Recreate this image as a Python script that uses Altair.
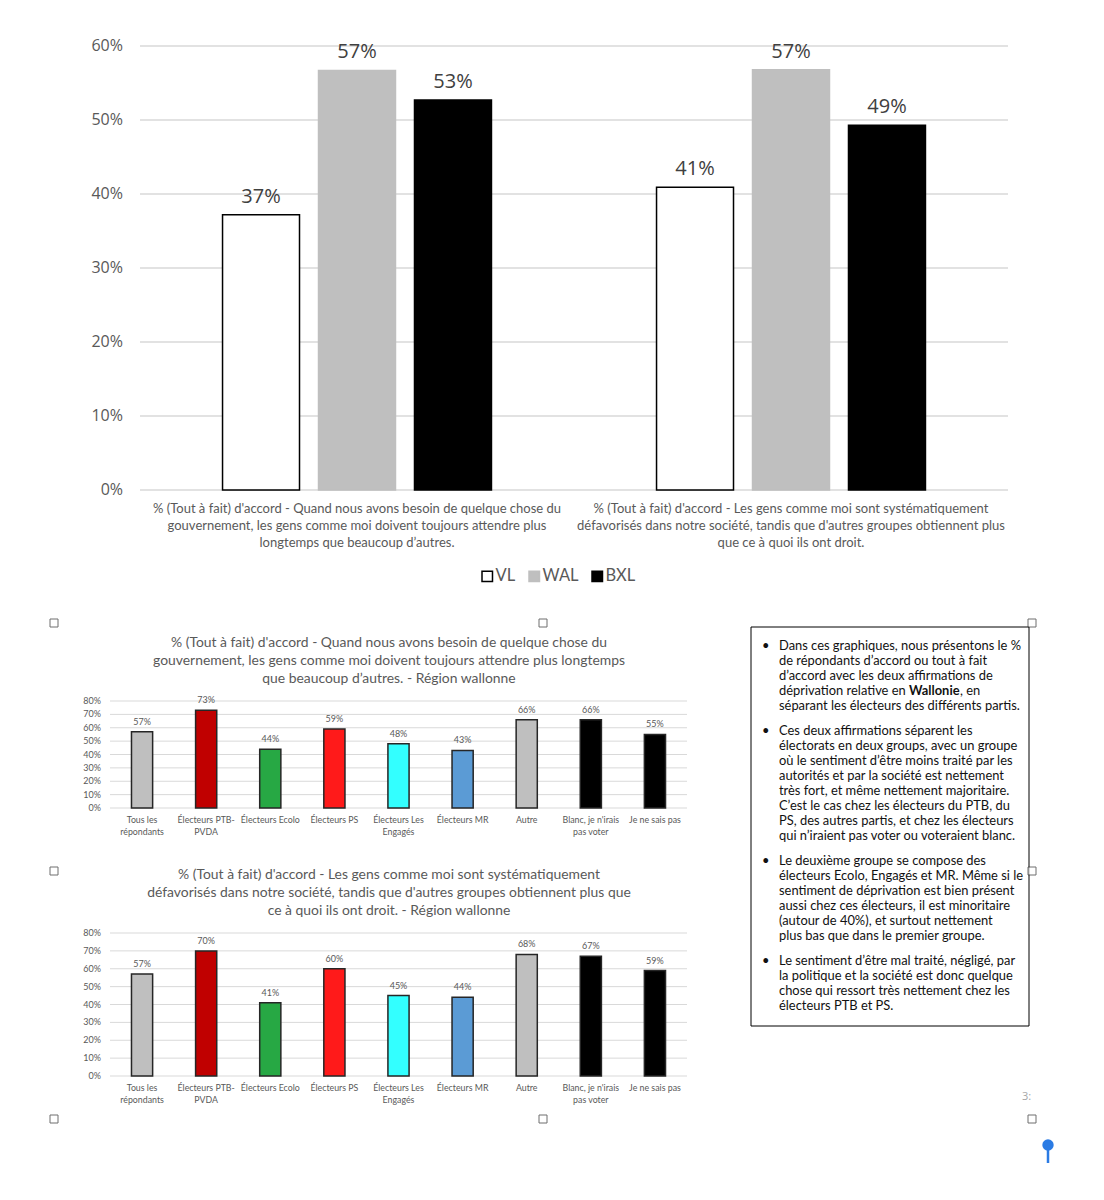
import altair as alt
import pandas as pd

# ---------------- data ----------------
stmt_keys = ["S1", "S2"]
stmt_lines = [
    ["% (Tout à fait) d'accord - Quand nous avons besoin de quelque chose du",
     "gouvernement, les gens comme moi doivent toujours attendre plus",
     "longtemps que beaucoup d’autres."],
    ["% (Tout à fait) d'accord - Les gens comme moi sont systématiquement",
     "défavorisés dans notre société, tandis que d'autres groupes obtiennent plus",
     "que ce à quoi ils ont droit."],
]
regions = ["VL", "WAL", "BXL"]
vals_vl = [0.372, 0.409]
vals_wal = [0.567, 0.568]
vals_bxl = [0.527, 0.493]
region_fill = ["#FFFFFF", "#BFBFBF", "#000000"]
region_stroke = ["#000000", "#BFBFBF", "#000000"]
top_ticks = [0.0, 0.1, 0.2, 0.3, 0.4, 0.5, 0.6]

parties = ["Tous les répondants", "Électeurs PTB-PVDA", "Électeurs Ecolo", "Électeurs PS",
           "Électeurs Les Engagés", "Électeurs MR", "Autre", "Blanc, je n'irais pas voter",
           "Je ne sais pas"]
party_lines = [["Tous les", "répondants"], ["Électeurs PTB-", "PVDA"], ["Électeurs Ecolo"],
               ["Électeurs PS"], ["Électeurs Les", "Engagés"], ["Électeurs MR"], ["Autre"],
               ["Blanc, je n'irais", "pas voter"], ["Je ne sais pas"]]
party_colors = ["#BFBFBF", "#C00000", "#27A844", "#FF1A1A", "#33FFFF", "#5B9BD5",
                "#BFBFBF", "#000000", "#000000"]
wal_q1 = [0.57, 0.73, 0.44, 0.59, 0.48, 0.43, 0.66, 0.66, 0.55]
wal_q2 = [0.57, 0.70, 0.41, 0.60, 0.45, 0.44, 0.68, 0.67, 0.59]
small_ticks = [0.0, 0.1, 0.2, 0.3, 0.4, 0.5, 0.6, 0.7, 0.8]
title_q1 = ["% (Tout à fait) d'accord - Quand nous avons besoin de quelque chose du",
            "gouvernement, les gens comme moi doivent toujours attendre plus longtemps",
            "que beaucoup d’autres. - Région wallonne"]
title_q2 = ["% (Tout à fait) d'accord - Les gens comme moi sont systématiquement",
            "défavorisés dans notre société, tandis que d'autres groupes obtiennent plus que",
            "ce à quoi ils ont droit. - Région wallonne"]

box_paras = [
    ["Dans ces graphiques, nous présentons le %",
     "de répondants d’accord ou tout à fait",
     "d’accord avec les deux affirmations de"],
    ["Ces deux affirmations séparent les",
     "électorats en deux groups, avec un groupe",
     "où le sentiment d’être moins traité par les",
     "autorités et par la société est nettement",
     "très fort, et même nettement majoritaire.",
     "C’est le cas chez les électeurs du PTB, du",
     "PS, des autres partis, et chez les électeurs",
     "qui n’iraient pas voter ou voteraient blanc."],
    ["Le deuxième groupe se compose des",
     "électeurs Ecolo, Engagés et MR. Même si le",
     "sentiment de déprivation est bien présent",
     "aussi chez ces électeurs, il est minoritaire",
     "(autour de 40%), et surtout nettement",
     "plus bas que dans le premier groupe."],
    ["Le sentiment d’être mal traité, négligé, par",
     "la politique et la société est donc quelque",
     "chose qui ressort très nettement chez les",
     "électeurs PTB et PS."],
]
para1_line4 = ["déprivation relative en", "Wallonie", ", en"]
para1_line5 = "séparant les électeurs des différents partis."
page_number = "3:"

# ---------------- style ----------------
F_UI = "Open Sans"
F_C = "Lato"
TXT = "#595959"
GRID = "#D9D9D9"
W, H = 1088, 1184

one = pd.DataFrame({"a": [0]})

# ---------------- top chart ----------------
top_df = pd.DataFrame({
    "stmt": [s for s in stmt_keys for _ in regions],
    "region": regions * len(stmt_keys),
    "value": [v for trio in zip(vals_vl, vals_wal, vals_bxl) for v in trio],
})
tx = alt.Scale(domain=stmt_keys, range=[132, 1000], paddingInner=0, paddingOuter=0)
ty = alt.Scale(domain=[0, 0.6], range=[482, 38])
txo = alt.Scale(domain=regions, paddingInner=0.198, paddingOuter=0.86)
leg = alt.Legend(title=None, orient="none", legendX=471, legendY=560, direction="horizontal",
                 symbolType="square", symbolSize=110, symbolStrokeWidth=1.5,
                 labelFont=F_C, labelFontSize=16.5, labelColor=TXT, columnPadding=10,
                 labelOffset=0)

top_grid = alt.Chart(pd.DataFrame({"t": top_ticks})).mark_rule(color=GRID, strokeWidth=1.3).encode(
    y=alt.Y("t:Q", scale=ty, axis=None), x=alt.value(132), x2=alt.value(1000))
top_tick_lab = alt.Chart(pd.DataFrame({"t": top_ticks})).mark_text(
    align="right", baseline="middle", font=F_UI, fontSize=16, color=TXT).encode(
    y=alt.Y("t:Q", scale=ty, axis=None), x=alt.value(115), text=alt.Text("t:Q", format=".0%"))
top_bars = alt.Chart(top_df).mark_bar(strokeWidth=1.5).encode(
    x=alt.X("stmt:N", scale=tx, axis=None),
    xOffset=alt.XOffset("region:N", scale=txo),
    y=alt.Y("value:Q", scale=ty, axis=None),
    fill=alt.Fill("region:N", scale=alt.Scale(domain=regions, range=region_fill), legend=leg),
    stroke=alt.Stroke("region:N", scale=alt.Scale(domain=regions, range=region_stroke), legend=leg),
)
top_vals = alt.Chart(top_df).mark_text(
    baseline="bottom", dy=-8, font=F_UI, fontSize=20, color="#404040").encode(
    x=alt.X("stmt:N", scale=tx, axis=None),
    xOffset=alt.XOffset("region:N", scale=txo),
    y=alt.Y("value:Q", scale=ty, axis=None),
    text=alt.Text("value:Q", format=".0%"))
top_cats = alt.Chart(pd.DataFrame({"stmt": stmt_keys, "lab": stmt_lines})).mark_text(
    baseline="middle", font=F_C, fontSize=13.0, lineHeight=17, color=TXT).encode(
    x=alt.X("stmt:N", scale=tx, axis=None), y=alt.value(501), text="lab:N")
top = alt.layer(top_grid, top_tick_lab, top_bars, top_vals, top_cats)


# ---------------- small charts ----------------
def small_chart(vals, title_lines, yrange, cat_y, title_y):
    df = pd.DataFrame({"cat": parties, "v": vals, "lab": party_lines})
    xs = alt.Scale(domain=parties, range=[102, 679], paddingInner=0.67, paddingOuter=0.335)
    ys = alt.Scale(domain=[0, 0.8], range=yrange)
    tk = pd.DataFrame({"t": small_ticks})
    grid = alt.Chart(tk).mark_rule(color=GRID, strokeWidth=1).encode(
        y=alt.Y("t:Q", scale=ys, axis=None), x=alt.value(102), x2=alt.value(679))
    ticks = alt.Chart(tk).mark_text(align="right", baseline="middle", font=F_C, fontSize=9,
                                    color=TXT).encode(
        y=alt.Y("t:Q", scale=ys, axis=None), x=alt.value(93), text=alt.Text("t:Q", format=".0%"))
    bars = alt.Chart(df).mark_bar(stroke="#262626", strokeWidth=1.5).encode(
        x=alt.X("cat:N", scale=xs, axis=None),
        y=alt.Y("v:Q", scale=ys, axis=None),
        fill=alt.Fill("cat:N", scale=alt.Scale(domain=parties, range=party_colors), legend=None))
    vlab = alt.Chart(df).mark_text(baseline="bottom", dy=-5, font=F_C, fontSize=9, color=TXT).encode(
        x=alt.X("cat:N", scale=xs, axis=None), y=alt.Y("v:Q", scale=ys, axis=None),
        text=alt.Text("v:Q", format=".0%"))
    clab = alt.Chart(df).mark_text(baseline="middle", font=F_C, fontSize=8.8, lineHeight=12,
                                   color=TXT).encode(
        x=alt.X("cat:N", scale=xs, axis=None), y=alt.value(cat_y), text="lab:N")
    ttl = alt.Chart(pd.DataFrame({"t": [title_lines]})).mark_text(
        baseline="middle", font=F_C, fontSize=13.9, lineHeight=18, color=TXT).encode(
        x=alt.value(381), y=alt.value(title_y), text="t:N")
    return alt.layer(grid, ticks, bars, vlab, clab, ttl)


small1 = small_chart(wal_q1, title_q1, [800, 693], 812, 635)
small2 = small_chart(wal_q2, title_q2, [1068, 925], 1080, 867)

# ---------------- text box ----------------
BOX_F = 12.9
LH = 14.95
box = alt.Chart(one).mark_rect(fill="white", stroke="#000000", strokeWidth=1).encode(
    x=alt.value(743), x2=alt.value(1021), y=alt.value(619), y2=alt.value(1018))
layers_box = [box]
para_y = [638, 723, 853, 953]
for p, y0 in zip(box_paras, para_y):
    layers_box.append(alt.Chart(pd.DataFrame({"t": [p]})).mark_text(
        align="left", baseline="middle", font=F_C, fontSize=BOX_F, lineHeight=LH,
        color="#111111").encode(x=alt.value(771), y=alt.value(y0), text="t:N"))
    layers_box.append(alt.Chart(pd.DataFrame({"t": ["•"]})).mark_text(
        align="left", baseline="middle", font=F_C, fontSize=BOX_F, color="#111111").encode(
        x=alt.value(754), y=alt.value(y0), text="t:N"))
l4y = para_y[0] + 3 * LH
seg_x = [771, 901, 952]
for seg, sx in zip(para1_line4, seg_x):
    layers_box.append(alt.Chart(pd.DataFrame({"t": [seg]})).mark_text(
        align="left", baseline="middle", font=F_C, fontSize=BOX_F,
        fontWeight="bold" if seg == "Wallonie" else "normal", color="#111111").encode(
        x=alt.value(sx), y=alt.value(l4y), text="t:N"))
layers_box.append(alt.Chart(pd.DataFrame({"t": [para1_line5]})).mark_text(
    align="left", baseline="middle", font=F_C, fontSize=BOX_F, color="#111111").encode(
    x=alt.value(771), y=alt.value(para_y[0] + 4 * LH), text="t:N"))

# ---------------- decorations (selection handles, page number, cursor) ----------------
handles = [(46, 615), (535, 615), (1024, 615), (46, 863), (1024, 863), (46, 1111), (535, 1111), (1024, 1111)]
deco = []
for hx, hy in handles:
    deco.append(alt.Chart(one).mark_point(shape="square", size=64, filled=True, fill="white",
                                          stroke="#333333", strokeWidth=1).encode(
        x=alt.value(hx), y=alt.value(hy)))
deco.append(alt.Chart(pd.DataFrame({"t": [page_number]})).mark_text(
    align="left", baseline="middle", font=F_UI, fontSize=11, color="#A6A6A6").encode(
    x=alt.value(1014), y=alt.value(1089), text="t:N"))
deco.append(alt.Chart(one).mark_rule(color="#2B7BE4", strokeWidth=2.5).encode(
    x=alt.value(1040), y=alt.value(1137), y2=alt.value(1155)))
deco.append(alt.Chart(one).mark_point(shape="circle", size=130, filled=True, color="#2B7BE4",
                                      opacity=1).encode(x=alt.value(1040), y=alt.value(1137)))

chart = alt.layer(top, small1, small2, *layers_box, *deco).resolve_scale(
    x="independent", y="independent", fill="independent", stroke="independent"
).properties(width=W, height=H, padding=0, autosize=alt.AutoSizeParams(type="none")
).configure(background="white", style={"cell": {"stroke": "transparent", "strokeWidth": 0}}
).configure_view(stroke="transparent", strokeWidth=0)

chart.save("out.html", embed_options={"renderer": "svg", "actions": False})
